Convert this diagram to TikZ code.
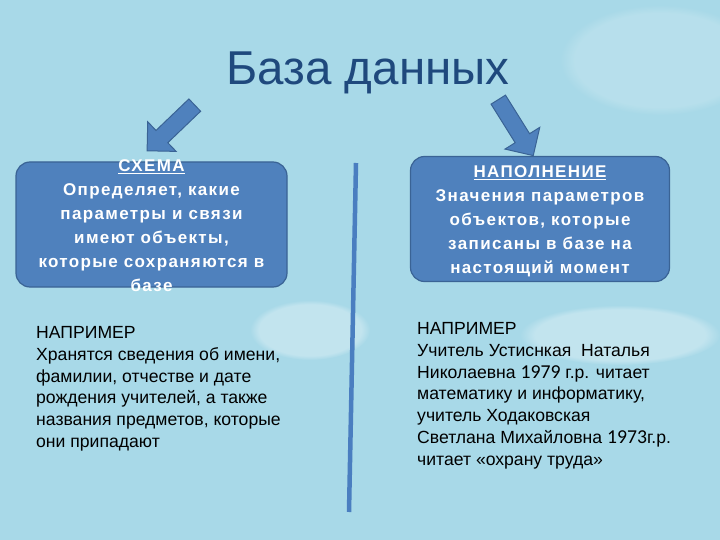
\documentclass[tikz,border=0pt]{standalone}
\usepackage{fontspec}
\setmainfont{Liberation Sans}
\newfontfamily\digitfont[Scale=1.12]{Carlito}
\newfontfamily\spacedbold[LetterSpace=8]{Liberation Sans Bold}
\usetikzlibrary{shapes.arrows,calc,fadings}
\definecolor{bgblue}{HTML}{A8D9E8}
\definecolor{boxblue}{HTML}{4F81BD}
\definecolor{boxline}{HTML}{3A6395}
\definecolor{titleblue}{HTML}{1F497D}
\definecolor{divblue}{HTML}{4A7EC0}

\begin{document}
\begin{tikzpicture}[
    x=1pt, y=-1pt,
    box/.style={rectangle, rounded corners=14pt, draw=boxline, line width=1.2pt, fill=boxblue},
    boxtext/.style={text=white, align=center, inner sep=0pt, font=\fontsize{17}{24}\spacedbold},
    extext/.style={align=left, anchor=north west, inner sep=0pt, font=\fontsize{17.6}{21.7}\selectfont},
    blockarrow/.style={single arrow, draw=boxline, fill=boxblue, line width=1pt, inner sep=0pt, inner ysep=8pt, single arrow head extend=12pt, minimum height=66pt},
    glare/.style={fill=white, fill opacity=0.3, path fading=circle with fuzzy edge 15 percent}
]
% background
\useasboundingbox (0,0) rectangle (720,540);
\fill[bgblue] (0,0) rectangle (720,540);
\fill[glare] (310,330) ellipse (60pt and 30pt);
\fill[glare] (620,335) ellipse (100pt and 30pt);
\fill[glare, fill opacity=0.18] (660,60) ellipse (100pt and 55pt);

% title
\node[anchor=base, text=titleblue, font=\fontsize{47.5}{56}\selectfont] (title) at (368,85) {База данных};

% arrows from the title
\coordinate (tailL) at (198,102);
\coordinate (tipL) at (150,148);
\coordinate (tailR) at (496,96);
\coordinate (tipR) at (531,152);
\node[blockarrow, rotate=223.8] (arrowL) at ($(tailL)!0.5!(tipL)$) {};
\node[blockarrow, rotate=-58] (arrowR) at ($(tailR)!0.5!(tipR)$) {};

% boxes
\node[box, minimum width=271pt, minimum height=125pt] (schemabox) at (151.5,224.5) {};
\node[boxtext] (schematext) at ($(schemabox.center)+(0,1.5)$) {\underline{СХЕМА}\\Определяет, какие\\параметры и связи\\имеют объекты,\\которые сохраняются в\\базе};
\node[box, minimum width=259pt, minimum height=125pt] (contentbox) at (540,219) {};
\node[boxtext] (contenttext) at ($(contentbox.center)+(0,2)$) {\underline{НАПОЛНЕНИЕ}\\Значения параметров\\объектов, которые\\записаны в базе на\\настоящий момент};

% divider
\coordinate (divtop) at (356,163);
\coordinate (divbot) at (349,512);
\draw[divblue, line width=4.5pt] (divtop) -- (divbot);

% examples
\node[extext] (schemaex) at (36,326.5) {НАПРИМЕР\\Хранятся сведения об имени,\\фамилии, отчестве и дате\\рождения учителей, а также\\названия предметов, которые\\они припадают};
\node[extext] (contentex) at (417,322.5) {НАПРИМЕР\\Учитель Устиснкая~ Наталья\\Николаевна {\digitfont 1979} г.р. читает\\математику и информатику,\\учитель Ходаковская\\Светлана Михайловна {\digitfont 1973}г.р.\\читает «охрану труда»};
\end{tikzpicture}
\end{document}
